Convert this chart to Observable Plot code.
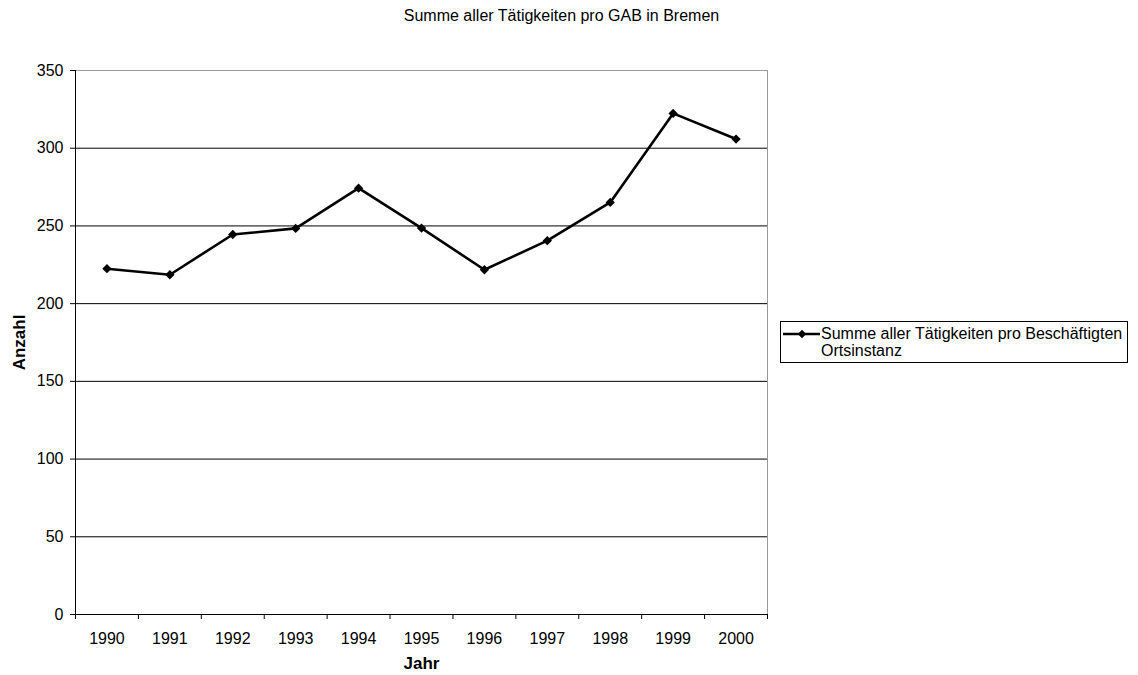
<!DOCTYPE html>
<html>
<head>
<meta charset="utf-8">
<script src="https://cdn.jsdelivr.net/npm/d3@7"></script>
<script src="https://cdn.jsdelivr.net/npm/@observablehq/plot@0.6"></script>
<style>
  html, body { margin: 0; padding: 0; background: #fff; }
  #chart { position: relative; width: 1138px; height: 675px; font-family: "Liberation Sans", Arial, sans-serif; color: #000; }
  #title { position: absolute; left: 0; width: 1123px; top: 6px; text-align: center; font-size: 16px; line-height: 19px; }
  #legend { position: absolute; left: 780px; top: 321px; width: 348px; height: 42px; border: 1px solid #000; box-sizing: border-box; font-size: 16px; line-height: 17px; }
  #legend svg { position: absolute; left: 2px; top: 6px; }
  #legend .txt { position: absolute; left: 40px; top: 3px; }
</style>
</head>
<body>
<div id="chart">
  <div id="title">Summe aller Tätigkeiten pro GAB in Bremen</div>
  <div id="legend">
    <svg width="38" height="12"><line x1="0" y1="6" x2="37" y2="6" stroke="#000" stroke-width="2.6"/><path d="M19,1.8 L23.2,6 L19,10.2 L14.8,6 Z" fill="#000"/></svg>
    <div class="txt">Summe aller Tätigkeiten pro Beschäftigten<br>Ortsinstanz</div>
  </div>
</div>
<script>
// Jahre und Summe aller Tätigkeiten pro Beschäftigten (Ortsinstanz)
const years = [1990, 1991, 1992, 1993, 1994, 1995, 1996, 1997, 1998, 1999, 2000];
const values = [222.5, 218.6, 244.5, 248.4, 274.3, 248.6, 221.8, 240.5, 265.1, 322.4, 305.9];
const yTicks = [0, 50, 100, 150, 200, 250, 300, 350];

const data = years.map((year, i) => ({year, value: values[i]}));
// Category boundaries between the years carry the x tick marks
const boundaries = [...years.map(y => y - 0.5), years[years.length - 1] + 0.5];

const plot = Plot.plot({
  width: 1138,
  height: 675,
  marginLeft: 75,
  marginRight: 371,
  marginTop: 70,
  marginBottom: 61,
  style: {fontFamily: "Liberation Sans, Arial, sans-serif", fontSize: "16px", color: "#000", background: "#fff"},
  x: {domain: [boundaries[0], boundaries[boundaries.length - 1]]},
  y: {domain: [0, 350]},
  marks: [
    Plot.frame({stroke: "#999"}),
    Plot.gridY(yTicks.filter(t => t > 0 && t < 350), {stroke: "#000", strokeOpacity: 1}),
    Plot.ruleY([0], {stroke: "#000"}),
    Plot.ruleX([boundaries[0]], {stroke: "#000"}),
    Plot.axisY(yTicks, {tickSize: 5, tickPadding: 7, label: null, fontSize: 16, tickFormat: d => String(d)}),
    Plot.axisX(boundaries, {tickSize: 5, tickFormat: () => "", label: null}),
    Plot.axisX(years, {tickSize: 0, tickPadding: 18, label: null, fontSize: 16, tickFormat: d => String(d)}),
    Plot.text(["Anzahl"], {frameAnchor: "left", dx: -56, rotate: -90, textAnchor: "middle", lineAnchor: "middle", fontWeight: "bold", fontSize: 17}),
    Plot.text(["Jahr"], {frameAnchor: "bottom", dy: 49, textAnchor: "middle", lineAnchor: "middle", fontWeight: "bold", fontSize: 17}),
    Plot.line(data, {x: "year", y: "value", stroke: "#000", strokeWidth: 2.6}),
    Plot.dot(data, {x: "year", y: "value", symbol: "diamond2", r: 4.2, fill: "#000", stroke: "none"})
  ]
});
document.getElementById("chart").prepend(plot);
plot.style.position = "absolute";
plot.style.left = "0";
plot.style.top = "0";
</script>
</body>
</html>
